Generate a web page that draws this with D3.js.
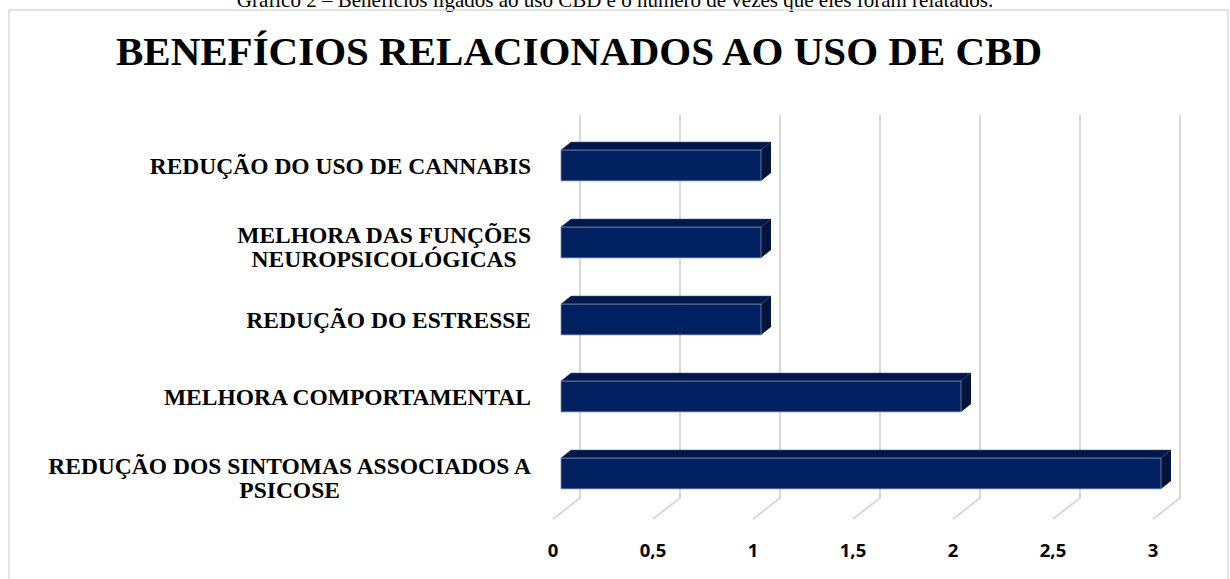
<!DOCTYPE html>
<html>
<head>
<meta charset="utf-8">
<script src="https://cdn.jsdelivr.net/npm/d3@7"></script>
<style>
  body { margin: 0; background: #fff; }
  svg { display: block; }
</style>
</head>
<body>
<svg id="canvas"></svg>
<script>
// categories listed top to bottom
const categories = [
    ["REDUÇÃO DO USO DE CANNABIS"],
    ["MELHORA DAS FUNÇÕES", "NEUROPSICOLÓGICAS"],
    ["REDUÇÃO DO ESTRESSE"],
    ["MELHORA COMPORTAMENTAL"],
    ["REDUÇÃO DOS SINTOMAS ASSOCIADOS A", "PSICOSE"]
];
const values = [1, 1, 1, 2, 3];
const ticks = [0, 0.5, 1, 1.5, 2, 2.5, 3];
const tickLabels = ["0", "0,5", "1", "1,5", "2", "2,5", "3"];
const title = "BENEFÍCIOS RELACIONADOS AO USO DE CBD";
const caption = "Gráfico 2 – Benefícios ligados ao uso CBD e o número de vezes que eles foram relatados.";

const width = 1230;
const height = 579;
const depthX = 10;
const depthY = 8;

const canvas = d3.select("#canvas")
    .attr("width", width)
    .attr("height", height);

// caption (cut off at the top of the page, as in the source)
canvas.append("text")
    .attr("x", 615)
    .attr("y", 7)
    .attr("text-anchor", "middle")
    .style("font-family", "'Liberation Serif', 'Times New Roman', serif")
    .style("font-size", "21px")
    .text(caption);

// chart frame
canvas.append("rect")
    .attr("x", 9)
    .attr("y", 10)
    .attr("width", 1219)
    .attr("height", 600)
    .attr("fill", "none")
    .attr("stroke", "#d9d9d9")
    .attr("stroke-width", 1.5);

canvas.append("text")
    .attr("x", 579)
    .attr("y", 65)
    .attr("text-anchor", "middle")
    .style("font-family", "'Liberation Serif', 'Times New Roman', serif")
    .style("font-weight", "bold")
    .style("font-size", "41px")
    .text(title);

// scales: front of bars, back wall, front edge of floor
const xScale = d3.scaleLinear().domain([0, 3]).range([561, 1161]);
const xBack = d3.scaleLinear().domain([0, 3]).range([580, 1180]);
const xFloor = d3.scaleLinear().domain([0, 3]).range([553, 1153]);

const yScale = d3.scaleBand()
    .domain(d3.range(categories.length))
    .range([127, 512])
    .paddingInner(0.6)
    .paddingOuter(0.3);

const gridTop = 115;
const gridBottom = 498;
const floorFront = 519;

const grid = canvas.append("g").attr("class", "grid");
grid.selectAll("path")
    .data(ticks)
    .enter()
    .append("path")
    .attr("d", d => `M${xBack(d)},${gridTop} L${xBack(d)},${gridBottom} L${xFloor(d)},${floorFront}`)
    .attr("fill", "none")
    .attr("stroke", "#d9d9d9")
    .attr("stroke-width", 2);

// bars with a little 3d depth
const bars = canvas.append("g").attr("class", "bars")
    .selectAll("g")
    .data(values)
    .enter()
    .append("g");

bars.append("path")
    .attr("d", (d, i) => {
        const y = yScale(i), x0 = xScale(0), x1 = xScale(d);
        return `M${x0},${y} L${x0 + depthX},${y - depthY} L${x1 + depthX},${y - depthY} L${x1},${y} Z`;
    })
    .attr("fill", "#00174a")
    .attr("stroke", "#3a4f80")
    .attr("stroke-width", 0.6);

bars.append("path")
    .attr("d", (d, i) => {
        const y = yScale(i), h = yScale.bandwidth(), x1 = xScale(d);
        return `M${x1},${y} L${x1 + depthX},${y - depthY} L${x1 + depthX},${y + h - depthY} L${x1},${y + h} Z`;
    })
    .attr("fill", "#00143c");

bars.append("rect")
    .attr("x", xScale(0))
    .attr("y", (d, i) => yScale(i))
    .attr("width", d => xScale(d) - xScale(0))
    .attr("height", yScale.bandwidth())
    .attr("fill", "#002060")
    .attr("stroke", "#7d8db0")
    .attr("stroke-width", 0.8);

// category labels, lines centred on each other, block right aligned
const labelRight = 531;
const lineH = 24;
categories.forEach((lines, i) => {
    const cy = yScale(i) + yScale.bandwidth() / 2 + (lines.length > 1 ? 4 : 0);
    const t = canvas.append("text")
        .attr("text-anchor", "middle")
        .style("font-family", "'Liberation Serif', 'Times New Roman', serif")
        .style("font-weight", "bold")
        .style("font-size", "23.5px");
    const spans = lines.map((line, k) => t.append("tspan")
        .attr("y", cy + 8 + (k - (lines.length - 1) / 2) * lineH)
        .text(line));
    const maxW = d3.max(spans, s => s.node().getComputedTextLength());
    spans.forEach(s => s.attr("x", labelRight - maxW / 2));
});

// x tick labels
canvas.append("g")
    .selectAll("text")
    .data(ticks)
    .enter()
    .append("text")
    .attr("x", d => xFloor(d))
    .attr("y", 557)
    .attr("text-anchor", "middle")
    .style("font-family", "'Open Sans', 'Liberation Sans', sans-serif")
    .style("font-weight", "bold")
    .style("font-size", "18.5px")
    .text((d, i) => tickLabels[i]);
</script>
</body>
</html>
